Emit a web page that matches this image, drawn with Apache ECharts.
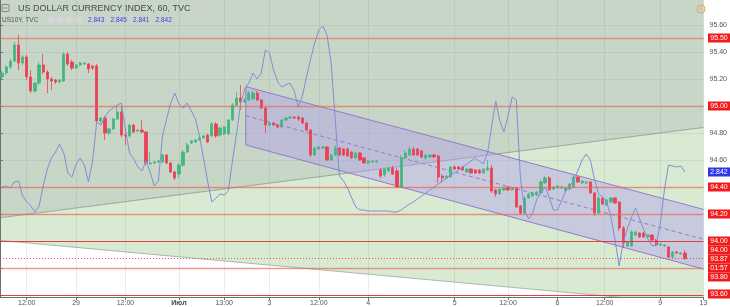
<!DOCTYPE html>
<html><head><meta charset="utf-8">
<script src="https://cdn.jsdelivr.net/npm/echarts@6/dist/echarts.min.js"></script>
<style>html,body{margin:0;padding:0;background:#fff}#c{width:730px;height:307px}</style>
</head><body><div id="c"></div>
<script>
// ---------- data ----------
const barCount = 171;
// [open, close, low, high]
const candles = [
[95.215,95.244,95.200,95.259],[95.244,95.289,95.229,95.304],[95.289,95.333,95.274,95.348],[95.333,95.452,95.326,95.474],
[95.452,95.318,95.266,95.526],[95.318,95.363,95.304,95.378],[95.363,95.215,95.192,95.378],[95.215,95.111,95.096,95.266],
[95.111,95.170,95.096,95.178],[95.170,95.304,95.155,95.326],[95.304,95.252,95.237,95.385],[95.252,95.200,95.096,95.266],
[95.200,95.185,95.118,95.215],[95.192,95.178,95.163,95.200],[95.178,95.192,95.170,95.200],[95.185,95.385,95.178,95.400],
[95.385,95.311,95.296,95.400],[95.326,95.281,95.266,95.341],[95.281,95.304,95.274,95.311],[95.304,95.318,95.296,95.326],
[95.311,95.318,95.304,95.326],[95.311,95.274,95.244,95.318],[95.296,95.281,95.266,95.304],[95.296,94.889,94.881,95.311],
[94.889,94.911,94.874,94.918],[94.911,94.800,94.748,94.926],[94.800,94.830,94.785,94.837],[94.830,94.904,94.822,94.911],
[94.904,94.956,94.896,95.007],[94.956,94.785,94.770,94.993],[94.785,94.778,94.711,94.837],[94.778,94.859,94.763,94.867],
[94.859,94.807,94.800,94.867],[94.815,94.822,94.807,94.830],[94.822,94.807,94.800,94.896],[94.807,94.578,94.563,94.815],
[94.570,94.578,94.563,94.659],[94.578,94.585,94.570,94.593],[94.585,94.593,94.578,94.600],[94.585,94.637,94.578,94.644],
[94.637,94.578,94.570,94.644],[94.578,94.511,94.504,94.585],[94.511,94.467,94.452,94.519],[94.496,94.563,94.467,94.578],
[94.563,94.659,94.548,94.674],[94.659,94.711,94.652,94.726],[94.726,94.741,94.718,94.748],[94.733,94.748,94.726,94.756],
[94.748,94.763,94.741,94.770],[94.763,94.778,94.756,94.785],[94.785,94.733,94.726,94.793],[94.778,94.867,94.770,94.881],
[94.867,94.778,94.763,94.881],[94.785,94.837,94.770,94.844],[94.793,94.844,94.785,94.852],[94.793,94.896,94.785,94.904],
[94.896,95.007,94.889,95.022],[95.007,95.059,95.000,95.104],[95.059,95.030,94.970,95.155],[95.030,95.044,95.022,95.059],
[95.044,95.096,95.037,95.111],[95.052,95.096,95.044,95.111],[95.096,95.044,95.037,95.111],[95.044,94.985,94.978,95.052],
[94.985,94.859,94.800,94.993],[94.859,94.874,94.844,94.881],[94.874,94.859,94.852,94.881],[94.859,94.844,94.837,94.867],
[94.844,94.896,94.837,94.904],[94.896,94.911,94.889,94.918],[94.911,94.918,94.904,94.926],[94.918,94.911,94.904,94.926],
[94.918,94.904,94.889,94.926],[94.911,94.874,94.867,94.918],[94.874,94.822,94.815,94.881],[94.822,94.637,94.622,94.830],
[94.637,94.689,94.630,94.696],[94.681,94.696,94.674,94.704],[94.689,94.696,94.681,94.704],[94.696,94.600,94.593,94.704],
[94.600,94.637,94.593,94.644],[94.637,94.689,94.630,94.711],[94.689,94.637,94.630,94.696],[94.681,94.637,94.630,94.689],
[94.681,94.630,94.622,94.689],[94.659,94.615,94.607,94.667],[94.615,94.652,94.607,94.659],[94.652,94.600,94.593,94.659],
[94.615,94.578,94.570,94.622],[94.578,94.593,94.570,94.600],[94.585,94.593,94.578,94.600],[94.585,94.593,94.578,94.600],
[94.526,94.481,94.467,94.541],[94.489,94.533,94.474,94.541],[94.519,94.541,94.511,94.548],[94.541,94.496,94.489,94.556],
[94.519,94.400,94.393,94.541],[94.400,94.615,94.393,94.637],[94.615,94.652,94.607,94.674],[94.637,94.681,94.630,94.704],
[94.681,94.637,94.630,94.696],[94.681,94.637,94.630,94.689],[94.667,94.622,94.615,94.674],[94.615,94.637,94.600,94.644],
[94.622,94.637,94.615,94.644],[94.637,94.622,94.615,94.644],[94.630,94.474,94.430,94.637],[94.481,94.467,94.430,94.496],
[94.467,94.481,94.459,94.489],[94.474,94.548,94.467,94.556],[94.548,94.533,94.526,94.563],[94.548,94.533,94.526,94.556],
[94.548,94.526,94.519,94.556],[94.511,94.533,94.504,94.541],[94.533,94.504,94.496,94.541],[94.526,94.504,94.496,94.533],
[94.526,94.504,94.496,94.533],[94.504,94.533,94.496,94.541],[94.526,94.541,94.519,94.600],[94.541,94.370,94.356,94.563],
[94.378,94.348,94.326,94.385],[94.348,94.385,94.341,94.393],[94.378,94.393,94.370,94.400],[94.400,94.378,94.370,94.407],
[94.378,94.393,94.370,94.400],[94.393,94.252,94.244,94.400],[94.259,94.207,94.193,94.267],[94.207,94.318,94.200,94.333],
[94.318,94.348,94.311,94.356],[94.333,94.356,94.326,94.363],[94.341,94.363,94.333,94.370],[94.356,94.437,94.348,94.452],
[94.430,94.467,94.422,94.481],[94.467,94.378,94.370,94.481],[94.385,94.400,94.378,94.407],[94.393,94.407,94.385,94.415],
[94.393,94.400,94.385,94.407],[94.370,94.393,94.363,94.400],[94.385,94.422,94.378,94.430],[94.400,94.474,94.393,94.489],
[94.474,94.437,94.430,94.481],[94.430,94.444,94.422,94.452],[94.430,94.437,94.422,94.444],[94.437,94.356,94.348,94.444],
[94.356,94.207,94.185,94.363],[94.207,94.318,94.200,94.333],[94.318,94.274,94.267,94.326],[94.267,94.304,94.259,94.311],
[94.289,94.318,94.281,94.326],[94.318,94.281,94.274,94.326],[94.289,94.096,94.074,94.296],[94.096,93.985,93.948,94.111],
[93.963,93.993,93.956,94.000],[93.963,94.067,93.956,94.081],[94.044,94.067,94.037,94.074],[94.059,94.030,94.022,94.067],
[94.059,94.030,94.022,94.067],[94.030,94.044,94.022,94.052],[94.044,94.007,94.000,94.052],[94.007,93.970,93.963,94.015],
[93.970,93.978,93.963,93.985],[93.963,93.970,93.956,93.978],[93.956,93.881,93.874,93.963],[93.881,93.919,93.874,93.926],
[93.919,93.911,93.904,93.926],[93.904,93.911,93.896,93.919],[93.911,93.870,93.859,93.933]
];
const us10y = [
2.8345,2.835,2.834,2.837,2.8375,2.83,2.827,2.825,2.822,2.825,
2.835,2.8435,2.849,2.852,2.856,2.8515,2.8415,2.8395,2.846,2.849,
2.8455,2.837,2.8475,2.867,2.8655,2.8695,2.8725,2.874,2.8755,2.8765,
2.863,2.8515,2.8485,2.8445,2.8425,2.8475,2.842,2.835,2.8375,2.86,
2.8685,2.8765,2.8815,2.876,2.874,2.8765,2.8725,2.8685,2.86,2.8485,
2.837,2.827,2.829,2.831,2.8305,2.8325,2.8475,2.861,2.8765,2.8835,
2.8865,2.8915,2.8885,2.8915,2.903,2.9015,2.893,2.887,2.8845,2.8855,
2.8865,2.8825,2.8745,2.88,2.8895,2.8985,2.9065,2.913,2.915,2.9105,
2.8965,2.868,2.84,2.8375,2.834,2.829,2.8245,2.823,2.823,2.8225,
2.8225,2.8225,2.8225,2.8225,2.8225,2.822,2.822,2.823,2.8245,2.826,
2.827,2.8285,2.83,2.8315,2.833,2.8345,2.836,2.8375,2.839,2.8405,
2.8415,2.843,2.8445,2.846,2.8475,2.849,2.8475,2.846,2.8515,2.8645,
2.8775,2.8675,2.862,2.87,2.8795,2.878,2.839,2.8225,2.8185,2.8215,
2.8285,2.8315,2.8345,2.8295,2.823,2.823,2.8275,2.8325,2.835,2.838,
2.843,2.848,2.851,2.848,2.8385,2.831,2.8295,2.827,2.8195,2.808,
2.795,2.807,2.8135,2.8195,2.824,2.8185,2.813,2.8085,2.805,2.8055,
2.816,2.833,2.8455,2.845,2.8445,2.845,2.842
];
const xLabelBars = [6, 18, 30, 43, 54, 65, 77, 89, 110, 123, 135, 146.5, 160, 170.5];
const xLabelTexts = ['12:00','29','12:00','Июл','13:00','3','12:00','4','5','12:00','6','12:00','9','13'];
const boldLabels = ['Июл'];
const priceTicks = [93.6, 93.8, 94.0, 94.2, 94.4, 94.6, 94.8, 95.0, 95.2, 95.4, 95.6];
const levelLines = [95.5, 95.0, 94.4, 94.2, 94.0, 93.8, 93.6];
const strongLevels = [94.0, 93.6];
const levelTags = [95.5, 95.0, 94.4, 94.2, 94.0, 94.0, 93.8, 93.6];
const lastPrice = 93.87;
const lastYield = 2.842;
const countdownText = '01:57';
const yieldOHLC = ['2.843', '2.845', '2.841', '2.842'];
const titleText = 'US DOLLAR CURRENCY INDEX, 60, TVC';
const subTitleText = 'US10Y, TVC';
const fanUpper = [[0, 94.172], [171, 94.841]];
const fanLower = [[0, 94.004], [171, 93.526]];
const channelX = [59.75, 171];
const channelUpper = [95.143, 94.234];
const channelLower = [94.711, 93.792];
const priceRange = [93.585, 95.785];
const yieldRange = [2.7795, 2.928];

// ---------- chart ----------
const FONT = 'Liberation Sans, Arial, sans-serif';
const chart = echarts.init(document.getElementById('c'), null, {renderer: 'canvas'});
const cats = Array.from({length: barCount}, (_, i) => String(i));
const labelPos = xLabelBars.map(b => b + 0.5);

const option = {
  animation: false,
  backgroundColor: '#ffffff',
  grid: {left: 0, right: 24, top: 0, bottom: 10, containLabel: false},
  xAxis: [
    {type: 'category', data: cats, boundaryGap: true, show: false},
    {type: 'value', min: 0, max: barCount, position: 'bottom',
      axisLine: {show: true, onZero: false, lineStyle: {color: '#6f6f6f', width: 1}},
      axisTick: {show: true, length: 3, customValues: labelPos, lineStyle: {color: '#6f6f6f'}},
      axisLabel: {show: true, customValues: labelPos, margin: 3, fontSize: 7, color: '#555', fontFamily: FONT,
        formatter: v => {
          let best = 0, bd = 1e9;
          labelPos.forEach((p, j) => { const d = Math.abs(p - v); if (d < bd) { bd = d; best = j; } });
          const t = xLabelTexts[best];
          return boldLabels.includes(t) ? '{b|' + t + '}' : t;
        },
        rich: {b: {fontWeight: 'bold', fontSize: 7, color: '#444', fontFamily: FONT}}},
      splitLine: {show: false}}
  ],
  yAxis: [
    {type: 'value', position: 'right', min: priceRange[0], max: priceRange[1],
      axisLine: {show: true, lineStyle: {color: '#6f6f6f', width: 1}},
      axisTick: {show: true, length: 3, customValues: priceTicks, lineStyle: {color: '#6f6f6f'}},
      axisLabel: {show: true, customValues: priceTicks, margin: 6, fontSize: 7, color: '#555', fontFamily: FONT,
        formatter: v => v.toFixed(2)},
      splitLine: {show: false}},
    {type: 'value', show: false, min: yieldRange[0], max: yieldRange[1]}
  ],
  series: [
    {type: 'line', name: 'bgMid', xAxisIndex: 1, yAxisIndex: 0, data: fanUpper, symbol: 'none', silent: true, z: 0,
      lineStyle: {width: 0}, areaStyle: {color: '#d8ead2', opacity: 1, origin: 'start'},
      markLine: {silent: true, symbol: ['none', 'none'], z: 0.5, label: {show: false},
        lineStyle: {color: 'rgba(130,150,175,0.18)', width: 1, type: 'solid'},
        data: labelPos.map(v => ({xAxis: v})).concat(priceTicks.map(v => ({yAxis: v})))}},
    {type: 'line', name: 'bgLow', xAxisIndex: 1, yAxisIndex: 0, data: fanLower, symbol: 'none', silent: true, z: 0,
      lineStyle: {color: 'rgba(120,135,130,0.55)', width: 1}, areaStyle: {color: '#ffffff', opacity: 1, origin: 'start'}},
    {type: 'line', name: 'bgTop', xAxisIndex: 1, yAxisIndex: 0, data: fanUpper, symbol: 'none', silent: true, z: 0,
      lineStyle: {color: 'rgba(115,125,125,0.6)', width: 1}, areaStyle: {color: '#c7d6c7', opacity: 1, origin: 'end'},
      markLine: {silent: true, symbol: ['none', 'none'], z: 5, label: {show: false},
        data: levelLines.map(v => ({yAxis: v, lineStyle: strongLevels.includes(v)
            ? {color: 'rgba(230,45,45,0.9)', width: 1, type: 'solid'}
            : {color: 'rgba(240,95,75,0.6)', width: 1.3, type: 'solid'}}))
          .concat([{yAxis: lastPrice, lineStyle: {color: 'rgba(235,60,60,0.85)', width: 1, type: [1, 2]}}])}},
    {type: 'custom', name: 'channel', xAxisIndex: 1, yAxisIndex: 0, z: 1, silent: true, data: [[channelX[0]]],
      renderItem: (params, api) => {
        const u0 = api.coord([channelX[0], channelUpper[0]]), u1 = api.coord([channelX[1], channelUpper[1]]);
        const l0 = api.coord([channelX[0], channelLower[0]]), l1 = api.coord([channelX[1], channelLower[1]]);
        const m0 = [(u0[0] + l0[0]) / 2, (u0[1] + l0[1]) / 2], m1 = [(u1[0] + l1[0]) / 2, (u1[1] + l1[1]) / 2];
        const stroke = '#9479cc';
        return {type: 'group', children: [
          {type: 'polygon', shape: {points: [u0, u1, l1, l0]}, style: {fill: 'rgba(176,154,236,0.4)'}},
          {type: 'polyline', shape: {points: [l0, u0, u1]}, style: {stroke: stroke, lineWidth: 1, fill: 'none'}},
          {type: 'polyline', shape: {points: [l0, l1]}, style: {stroke: stroke, lineWidth: 1, fill: 'none'}},
          {type: 'line', shape: {x1: m0[0], y1: m0[1], x2: m1[0], y2: m1[1]}, style: {stroke: stroke, lineWidth: 1, lineDash: [4, 3]}}
        ]};
      }},
    {type: 'candlestick', name: 'DXY', xAxisIndex: 0, yAxisIndex: 0, z: 3, data: candles, barWidth: 2.7, silent: true,
      itemStyle: {color: '#46b67f', color0: '#ea4255', borderColor: '#46b67f', borderColor0: '#ea4255', borderWidth: 0.8}},
    {type: 'line', name: 'US10Y', xAxisIndex: 0, yAxisIndex: 1, z: 4, data: us10y, symbol: 'none', silent: true,
      lineStyle: {color: '#7f8fd4', width: 1}}
  ]
};
chart.setOption(option);

// ---------- overlay: price tags & legend ----------
const g = [];
const txt = (x, y, text, fill, size, align, weight) => g.push({type: 'text', x: x, y: y, z: 101,
  style: {text: text, fill: fill, font: (weight || 'normal') + ' ' + size + 'px ' + FONT,
    align: align || 'left', verticalAlign: 'middle', textAlign: align || 'left', textVerticalAlign: 'middle'}});
const tag = (y, text, fill) => {
  const yy = Math.round(y);
  g.push({type: 'rect', z: 100, shape: {x: 708, y: yy - 4.5, width: 22, height: 9}, style: {fill: fill}});
  txt(719, yy, text, '#ffffff', 7, 'center');
};
const py = v => chart.convertToPixel({yAxisIndex: 0}, v);
const seen = {};
levelTags.forEach(v => {
  const k = v.toFixed(2);
  let off = 0;
  if (seen[k]) off = 9 * seen[k];
  seen[k] = (seen[k] || 0) + 1;
  if (v === 93.8) off = 9;          // pushed below countdown
  if (v === 93.6) off = -1;
  tag(py(v) + off, k, '#f21b1b');
});
tag(py(lastPrice), lastPrice.toFixed(2), '#f21b1b');
tag(py(lastPrice) + 9, countdownText, '#f21b1b');
tag(chart.convertToPixel({yAxisIndex: 1}, lastYield), lastYield.toFixed(3), '#2f36e8');

// legend line 1
g.push({type: 'rect', z: 100, shape: {x: 2, y: 4.5, width: 7, height: 7}, style: {fill: 'none', stroke: '#8a8a8a', lineWidth: 1}});
g.push({type: 'line', z: 100, shape: {x1: 3.5, y1: 8, x2: 7.5, y2: 8}, style: {stroke: '#8a8a8a', lineWidth: 1}});
txt(18, 8.5, titleText, '#4a4a4a', 9);
[197, 205].forEach(x => g.push({type: 'rect', z: 100, shape: {x: x, y: 5, width: 6.5, height: 6.5, r: 1}, style: {fill: '#d2d2d2'}}));
// legend line 2
txt(2, 20, subTitleText, '#555', 6.5);
[48, 57, 66, 76].forEach(x => g.push({type: 'rect', z: 100, shape: {x: x, y: 17, width: 6.5, height: 6.5, r: 1}, style: {fill: '#d6d6d6'}}));
[88, 110.5, 133, 155.5].forEach((x, j) => txt(x, 20, yieldOHLC[j], '#3a3af0', 6.5));
// alert icon
g.push({type: 'circle', z: 100, shape: {cx: 701, cy: 9, r: 4}, style: {fill: 'none', stroke: '#f0a04b', lineWidth: 1}});
txt(701, 9, '!', '#f0a04b', 6, 'center', 'bold');

chart.setOption({graphic: {elements: g}});
</script>
</body></html>
